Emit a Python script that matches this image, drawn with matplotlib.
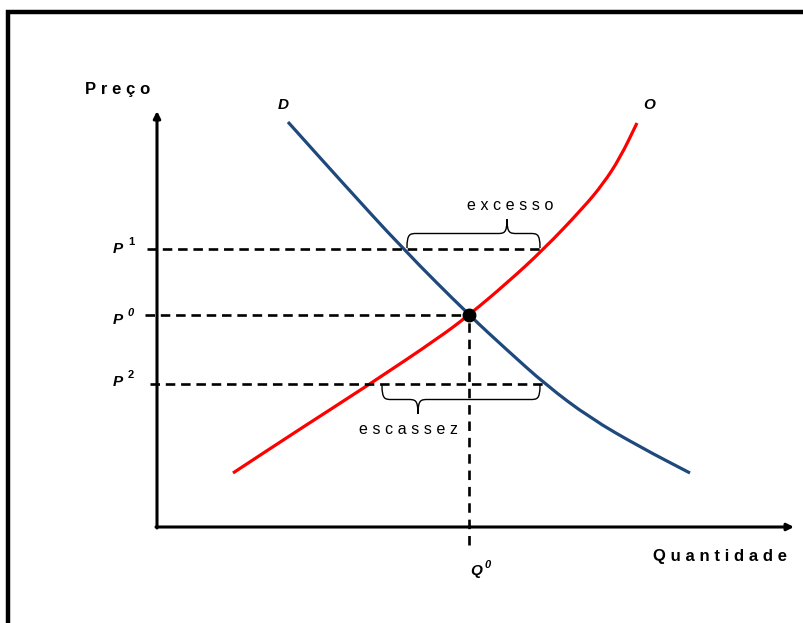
import matplotlib.pyplot as plt
import numpy as np
from matplotlib.path import Path
from matplotlib.patches import PathPatch

# demand (D) and supply (O) curves
demand_q = [13.1, 18.3, 24.6, 31.2, 35.0, 38.9, 43.3, 48.3, 53.3]
demand_p = [40.5, 34.7, 27.8, 21.2, 17.7, 14.2, 10.9, 8.0, 5.4]
supply_q = [7.6, 14.3, 21.3, 28.3, 31.2, 35.0, 38.7, 42.6, 44.6, 46.3, 48.0]
supply_p = [5.4, 9.8, 14.3, 19.0, 21.2, 24.4, 27.8, 31.9, 34.3, 36.9, 40.4]

# price levels and equilibrium quantity
p1, p0, p2 = 27.8, 21.2, 14.3
q0 = 31.2
excess_q = (24.6, 38.8)    # demand and supply at P1
shortage_q = (21.3, 38.9)  # supply and demand at P2

plt.rcParams['font.family'] = ['Liberation Sans', 'DejaVu Sans']
BLUE = '#1f497d'
RED = '#ff0000'


def spaced(s, sep='\u2009\u200a'):
    return sep.join(s)


def smooth_curve(ax, xs, ys, **kw):
    # quadratic bezier through segment midpoints, read points act as controls
    pts = list(zip(xs, ys))
    verts = [pts[0]]
    codes = [Path.MOVETO]
    mids = [((a[0] + b[0]) / 2, (a[1] + b[1]) / 2) for a, b in zip(pts[:-1], pts[1:])]
    verts.append(mids[0])
    codes.append(Path.LINETO)
    for i in range(1, len(pts) - 1):
        verts += [pts[i], mids[i]]
        codes += [Path.CURVE3, Path.CURVE3]
    verts.append(pts[-1])
    codes.append(Path.LINETO)
    ax.add_patch(PathPatch(Path(verts, codes), fc='none', capstyle='butt', **kw))


def brace(ax, x0, xt, x1, y, h, r=1.0):
    # curly brace from x0 to x1 at height y, tip at xt pointing h away
    m = y + h * 0.5
    verts = [(x0, y), (x0, m), (x0 + r * 0.3, m), (x0 + r, m),
             (xt - r, m), (xt - r * 0.3, m), (xt, m), (xt, y + h),
             (xt, y + h), (xt, m), (xt + r * 0.3, m), (xt + r, m),
             (x1 - r, m), (x1 - r * 0.3, m), (x1, m), (x1, y)]
    codes = [Path.MOVETO, Path.CURVE4, Path.CURVE4, Path.CURVE4,
             Path.LINETO, Path.CURVE4, Path.CURVE4, Path.CURVE4,
             Path.MOVETO, Path.CURVE4, Path.CURVE4, Path.CURVE4,
             Path.LINETO, Path.CURVE4, Path.CURVE4, Path.CURVE4]
    ax.add_patch(PathPatch(Path(verts, codes), fc='none', ec='black', lw=1.0))


fig = plt.figure(figsize=(8.04, 6.23), dpi=100)
ax = fig.add_axes([0, 0, 1, 1])
ax.set_xlim(-15.7, 64.7)
ax.set_ylim(-9.6, 52.7)
ax.axis('off')

# outer frame
ax.plot([-14.9, -14.9, 66], [-11, 51.5, 51.5], color='black', lw=3.2,
        solid_joinstyle='miter', clip_on=False)

# axes with arrows
ax.annotate('', xy=(0, 41.6), xytext=(0, -0.1),
            arrowprops=dict(arrowstyle='-|>', color='black', lw=2.2, mutation_scale=10,
                            shrinkA=0, shrinkB=0))
ax.annotate('', xy=(63.7, 0), xytext=(-0.1, 0),
            arrowprops=dict(arrowstyle='-|>', color='black', lw=2.2, mutation_scale=10,
                            shrinkA=0, shrinkB=0))

# dashed guides
dash = (0, (3.6, 2.2))
ax.plot([-1.0, excess_q[1]], [p1, p1], color='black', lw=1.9, linestyle=dash)
ax.plot([-1.2, q0], [p0, p0], color='black', lw=1.9, linestyle=dash)
ax.plot([-0.7, shortage_q[1]], [p2, p2], color='black', lw=1.9, linestyle=dash)
ax.plot([q0, q0], [-1.8, p0], color='black', lw=1.9, linestyle=(0, (3.6, 2.6)))

# curves
smooth_curve(ax, demand_q, demand_p, ec=BLUE, lw=2.3)
smooth_curve(ax, supply_q, supply_p, ec=RED, lw=2.3)
ax.plot([q0], [p0], 'o', color='black', ms=9, zorder=5)

# braces
brace(ax, 25.0, 35.0, 38.3, p1 + 0.1, 2.9)
brace(ax, 22.5, 26.1, 38.3, p2 - 0.1, -2.9)

# labels
ax.text(-7.2, 43.8, spaced('Preço'), fontsize=12, fontweight='bold', ha='left', va='center')
ax.text(63.0, -2.9, spaced('Quantidade'), fontsize=12, fontweight='bold', ha='right', va='center')
ax.text(35.3, 32.2, spaced('excesso'), fontsize=11.5, ha='center', va='center')
ax.text(25.1, 9.8, spaced('escassez'), fontsize=11.5, ha='center', va='center')
ax.text(12.6, 42.2, 'D', fontsize=11, fontweight='bold', style='italic', ha='center', va='center')
ax.text(49.2, 42.2, 'O', fontsize=11, fontweight='bold', style='italic', ha='center', va='center')

for lvl, sup, dy in [(p1, '1', 0), (p0, '0', -0.5), (p2, '2', 0.2)]:
    ax.text(-4.4, lvl + dy, 'P', fontsize=11, fontweight='bold', style='italic', ha='left', va='center')
    ax.text(-2.9, lvl + dy + 0.7, sup, fontsize=8, fontweight='bold',
            style='italic' if sup == '0' else 'normal', ha='left', va='center')
ax.text(q0 + 0.1, -4.4, 'Q', fontsize=11, fontweight='bold', style='italic', ha='left', va='center')
ax.text(q0 + 1.6, -3.8, '0', fontsize=8, fontweight='bold', style='italic', ha='left', va='center')

fig.savefig('out.png', dpi=100)
